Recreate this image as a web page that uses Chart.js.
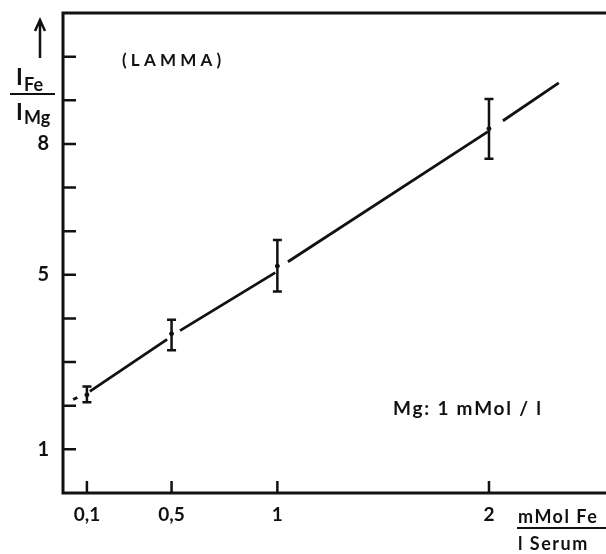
<!DOCTYPE html>
<html>
<head>
<meta charset="utf-8">
<script src="https://cdn.jsdelivr.net/npm/chart.js@4"></script>
<style>
  html, body { margin: 0; padding: 0; background: #fff; }
  #c { display: block; }
</style>
</head>
<body>
<canvas id="c" width="606" height="554"></canvas>
<script>
// measured points (mMol Fe / l serum vs I_Fe / I_Mg)
const conc = [0.1, 0.5, 1, 2];
const ratio = [2.25, 3.65, 5.2, 8.35];
const errLow = [2.08, 3.27, 4.62, 7.66];
const errHigh = [2.44, 3.97, 5.8, 9.03];

// straight line through the points, with its little breaks near each bar
const fitX = [0.035, 0.055, 0.08, 0.114, 0.479, 0.5, 0.54, 0.99, 1.0, 1.05, 1.995, 2.0, 2.066, 2.33];
const fitY = [2.14, 2.19, null, 2.33, 3.52, null, 3.72, 5.05, null, 5.30, 8.28, null, 8.53, 9.40];

const xTicks = [0.1, 0.5, 1, 2];
const yTicks = [1, 2, 3, 4, 5, 6, 7, 8, 9, 10];
const yLabels = [1, 5, 8];

const ink = '#111';
const FONT = 'Lato, sans-serif';

const inkPlugin = {
  id: 'ink',
  afterDatasetsDraw(chart) {
    const {ctx, chartArea: a, scales: {x, y}} = chart;
    ctx.save();
    ctx.strokeStyle = ink;
    ctx.fillStyle = ink;
    ctx.lineCap = 'butt';

    // error bars
    ctx.lineWidth = 2.5;
    conc.forEach((c, i) => {
      const px = x.getPixelForValue(c);
      const top = y.getPixelForValue(errHigh[i]);
      const bot = y.getPixelForValue(errLow[i]);
      ctx.beginPath();
      ctx.moveTo(px, top); ctx.lineTo(px, bot);
      ctx.moveTo(px - 4.5, top); ctx.lineTo(px + 4.5, top);
      ctx.moveTo(px - 4.5, bot); ctx.lineTo(px + 4.5, bot);
      ctx.stroke();
    });

    // axes frame: left, bottom, top
    ctx.lineWidth = 3;
    ctx.beginPath();
    ctx.moveTo(a.right, a.top); ctx.lineTo(a.left, a.top);
    ctx.lineTo(a.left, a.bottom); ctx.lineTo(a.right, a.bottom);
    ctx.stroke();

    // inward tick marks
    ctx.lineWidth = 2.5;
    ctx.beginPath();
    yTicks.forEach(v => {
      const py = y.getPixelForValue(v);
      ctx.moveTo(a.left, py); ctx.lineTo(a.left + 13, py);
    });
    xTicks.forEach(v => {
      const px = x.getPixelForValue(v);
      ctx.moveTo(px, a.bottom); ctx.lineTo(px, a.bottom - 12);
    });
    ctx.stroke();

    // y axis title: arrow and I_Fe / I_Mg
    ctx.lineWidth = 2.5;
    ctx.beginPath();
    ctx.moveTo(40, 58); ctx.lineTo(40, 21);
    ctx.moveTo(35, 31); ctx.lineTo(40, 20); ctx.lineTo(45, 31);
    ctx.stroke();
    ctx.textBaseline = 'alphabetic';
    ctx.textAlign = 'left';
    ctx.font = 'bold 23px ' + FONT;
    ctx.fillText('I', 16, 85);
    ctx.fillText('I', 16, 120);
    ctx.font = 'bold 18px ' + FONT;
    ctx.fillText('Fe', 24, 91);
    ctx.fillText('Mg', 24, 124);
    ctx.lineWidth = 2;
    ctx.beginPath();
    ctx.moveTo(10, 94); ctx.lineTo(55, 94);
    ctx.stroke();

    // annotations
    ctx.font = 'bold 17px ' + FONT;
    ctx.letterSpacing = '4.2px';
    ctx.fillText('(LAMMA)', 122, 66);
    ctx.font = 'bold 19px ' + FONT;
    ctx.letterSpacing = '1.8px';
    ctx.fillText('Mg: 1 mMol / l', 393, 415);
    ctx.letterSpacing = '1.5px';
    ctx.font = 'bold 18px ' + FONT;
    ctx.fillText('mMol Fe', 518, 523);
    ctx.fillText('l Serum', 518, 550);
    ctx.lineWidth = 2;
    ctx.beginPath();
    ctx.moveTo(517, 528); ctx.lineTo(606, 528);
    ctx.stroke();
    ctx.restore();
  }
};

new Chart(document.getElementById('c'), {
  type: 'scatter',
  data: {
    datasets: [
      {
        label: 'fit',
        type: 'line',
        data: fitX.map((v, i) => ({x: v, y: fitY[i]})),
        borderColor: ink,
        borderWidth: 2.8,
        pointRadius: 0,
        spanGaps: false,
        tension: 0
      },
      {
        label: 'LAMMA',
        data: conc.map((v, i) => ({x: v, y: ratio[i]})),
        backgroundColor: ink,
        borderColor: ink,
        pointRadius: 2
      }
    ]
  },
  options: {
    responsive: false,
    animation: false,
    layout: {autoPadding: false, padding: {top: 13, right: 0, left: 0, bottom: 0}},
    plugins: {legend: {display: false}, tooltip: {enabled: false}},
    scales: {
      x: {
        type: 'linear',
        min: -0.013,
        max: 2.553,
        border: {display: false},
        grid: {display: false, drawTicks: false},
        afterBuildTicks: s => { s.ticks = xTicks.map(v => ({value: v})); },
        afterFit: s => { s.height = 61; s.paddingLeft = 0; s.paddingRight = 0; },
        ticks: {
          color: ink,
          padding: 10,
          maxRotation: 0,
          font: {family: FONT, size: 19, weight: 'bold'},
          callback: v => String(v).replace('.', ',')
        }
      },
      y: {
        type: 'linear',
        min: 0,
        max: 11,
        border: {display: false},
        grid: {display: false, drawTicks: false},
        afterBuildTicks: s => { s.ticks = yLabels.map(v => ({value: v})); },
        afterFit: s => { s.width = 63; s.paddingTop = 0; s.paddingBottom = 0; },
        ticks: {
          color: ink,
          padding: 14,
          font: {family: FONT, size: 20, weight: 'bold'}
        }
      }
    }
  },
  plugins: [inkPlugin]
});
</script>
</body>
</html>
